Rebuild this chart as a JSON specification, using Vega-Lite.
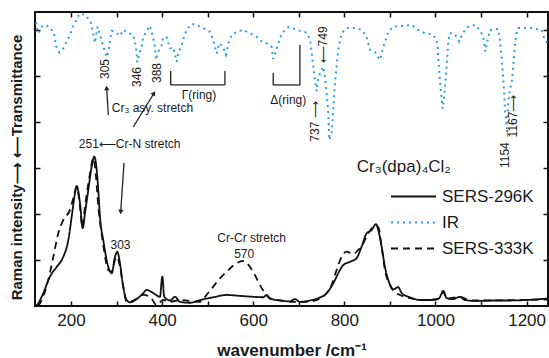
{
  "$schema": "https://vega.github.io/schema/vega-lite/v6.json",
  "width": 513,
  "height": 294,
  "autosize": {"type": "none"},
  "padding": {"left": 35, "top": 12, "right": 1, "bottom": 52},
  "background": "white",
  "config": {
    "view": {"stroke": "#111", "strokeWidth": 2},
    "font": "Liberation Sans",
    "axis": {"grid": false, "domain": false, "tickColor": "#111", "tickWidth": 1.5, "labelFont": "Liberation Sans", "titleFont": "Liberation Sans"}
  },
  "datasets": {
    "spec": [
      {"s":"SERS-296K","wn":123.2,"v":0.0},{"s":"SERS-296K","wn":128.2,"v":0.06},{"s":"SERS-296K","wn":139.2,"v":0.28},{"s":"SERS-296K","wn":153.9,"v":0.64},{"s":"SERS-296K","wn":168.6,"v":0.85},{"s":"SERS-296K","wn":183.1,"v":1.07},{"s":"SERS-296K","wn":194.1,"v":1.43},{"s":"SERS-296K","wn":201.5,"v":1.94},{"s":"SERS-296K","wn":208.8,"v":2.45},{"s":"SERS-296K","wn":212.5,"v":2.61},{"s":"SERS-296K","wn":219.8,"v":2.23},{"s":"SERS-296K","wn":225.7,"v":1.69},{"s":"SERS-296K","wn":230.7,"v":2.02},{"s":"SERS-296K","wn":238.0,"v":2.52},{"s":"SERS-296K","wn":245.4,"v":3.03},{"s":"SERS-296K","wn":251.1,"v":3.25},{"s":"SERS-296K","wn":256.4,"v":2.96},{"s":"SERS-296K","wn":259.9,"v":2.52},{"s":"SERS-296K","wn":263.6,"v":1.94},{"s":"SERS-296K","wn":270.9,"v":1.43},{"s":"SERS-296K","wn":281.9,"v":0.85},{"s":"SERS-296K","wn":289.3,"v":0.71},{"s":"SERS-296K","wn":296.6,"v":1.07},{"s":"SERS-296K","wn":301.6,"v":1.18},{"s":"SERS-296K","wn":307.5,"v":0.93},{"s":"SERS-296K","wn":313.5,"v":0.49},{"s":"SERS-296K","wn":322.2,"v":0.13},{"s":"SERS-296K","wn":329.5,"v":0.08},{"s":"SERS-296K","wn":344.2,"v":0.15},{"s":"SERS-296K","wn":358.7,"v":0.28},{"s":"SERS-296K","wn":366.1,"v":0.35},{"s":"SERS-296K","wn":380.6,"v":0.28},{"s":"SERS-296K","wn":395.3,"v":0.2},{"s":"SERS-296K","wn":400.4,"v":0.64},{"s":"SERS-296K","wn":404.7,"v":0.2},{"s":"SERS-296K","wn":417.3,"v":0.12},{"s":"SERS-296K","wn":428.2,"v":0.2},{"s":"SERS-296K","wn":439.2,"v":0.09},{"s":"SERS-296K","wn":461.1,"v":0.07},{"s":"SERS-296K","wn":483.1,"v":0.13},{"s":"SERS-296K","wn":512.3,"v":0.19},{"s":"SERS-296K","wn":541.7,"v":0.24},{"s":"SERS-296K","wn":570.9,"v":0.22},{"s":"SERS-296K","wn":600.0,"v":0.2},{"s":"SERS-296K","wn":622.0,"v":0.19},{"s":"SERS-296K","wn":629.4,"v":0.24},{"s":"SERS-296K","wn":636.7,"v":0.16},{"s":"SERS-296K","wn":658.6,"v":0.12},{"s":"SERS-296K","wn":680.6,"v":0.1},{"s":"SERS-296K","wn":691.5,"v":0.15},{"s":"SERS-296K","wn":702.5,"v":0.09},{"s":"SERS-296K","wn":724.5,"v":0.12},{"s":"SERS-296K","wn":742.7,"v":0.17},{"s":"SERS-296K","wn":761.1,"v":0.28},{"s":"SERS-296K","wn":775.6,"v":0.49},{"s":"SERS-296K","wn":786.6,"v":0.71},{"s":"SERS-296K","wn":797.5,"v":0.89},{"s":"SERS-296K","wn":812.2,"v":0.96},{"s":"SERS-296K","wn":826.9,"v":1.04},{"s":"SERS-296K","wn":837.9,"v":1.29},{"s":"SERS-296K","wn":848.9,"v":1.58},{"s":"SERS-296K","wn":859.9,"v":1.65},{"s":"SERS-296K","wn":869.3,"v":1.78},{"s":"SERS-296K","wn":874.4,"v":1.65},{"s":"SERS-296K","wn":881.8,"v":1.29},{"s":"SERS-296K","wn":889.1,"v":0.85},{"s":"SERS-296K","wn":896.3,"v":0.57},{"s":"SERS-296K","wn":907.3,"v":0.36},{"s":"SERS-296K","wn":918.3,"v":0.41},{"s":"SERS-296K","wn":925.7,"v":0.28},{"s":"SERS-296K","wn":943.9,"v":0.19},{"s":"SERS-296K","wn":965.9,"v":0.13},{"s":"SERS-296K","wn":995.0,"v":0.13},{"s":"SERS-296K","wn":1008.2,"v":0.17},{"s":"SERS-296K","wn":1017.0,"v":0.33},{"s":"SERS-296K","wn":1024.5,"v":0.17},{"s":"SERS-296K","wn":1038.9,"v":0.15},{"s":"SERS-296K","wn":1053.6,"v":0.2},{"s":"SERS-296K","wn":1064.6,"v":0.13},{"s":"SERS-296K","wn":1090.3,"v":0.11},{"s":"SERS-296K","wn":1126.7,"v":0.12},{"s":"SERS-296K","wn":1163.3,"v":0.12},{"s":"SERS-296K","wn":1199.9,"v":0.13},{"s":"SERS-296K","wn":1229.1,"v":0.15},{"s":"SERS-296K","wn":1246.7,"v":0.16},
      {"s":"SERS-333K","wn":127.6,"v":0.0},{"s":"SERS-333K","wn":132.0,"v":0.06},{"s":"SERS-333K","wn":150.2,"v":0.57},{"s":"SERS-333K","wn":161.2,"v":1.07},{"s":"SERS-333K","wn":172.1,"v":1.58},{"s":"SERS-333K","wn":183.1,"v":1.87},{"s":"SERS-333K","wn":197.8,"v":2.09},{"s":"SERS-333K","wn":205.0,"v":2.34},{"s":"SERS-333K","wn":212.5,"v":2.59},{"s":"SERS-333K","wn":219.8,"v":2.16},{"s":"SERS-333K","wn":224.8,"v":1.72},{"s":"SERS-333K","wn":230.7,"v":2.16},{"s":"SERS-333K","wn":241.7,"v":2.88},{"s":"SERS-333K","wn":248.9,"v":3.21},{"s":"SERS-333K","wn":254.9,"v":2.81},{"s":"SERS-333K","wn":259.9,"v":2.16},{"s":"SERS-333K","wn":265.2,"v":1.72},{"s":"SERS-333K","wn":272.4,"v":1.22},{"s":"SERS-333K","wn":281.9,"v":0.78},{"s":"SERS-333K","wn":289.3,"v":0.75},{"s":"SERS-333K","wn":296.6,"v":1.0},{"s":"SERS-333K","wn":301.6,"v":1.07},{"s":"SERS-333K","wn":307.5,"v":0.85},{"s":"SERS-333K","wn":314.8,"v":0.42},{"s":"SERS-333K","wn":322.2,"v":0.09},{"s":"SERS-333K","wn":336.7,"v":0.12},{"s":"SERS-333K","wn":358.7,"v":0.24},{"s":"SERS-333K","wn":373.4,"v":0.2},{"s":"SERS-333K","wn":388.1,"v":0.02},{"s":"SERS-333K","wn":401.9,"v":0.13},{"s":"SERS-333K","wn":417.3,"v":0.09},{"s":"SERS-333K","wn":439.2,"v":0.13},{"s":"SERS-333K","wn":483.1,"v":0.09},{"s":"SERS-333K","wn":494.1,"v":0.2},{"s":"SERS-333K","wn":508.8,"v":0.38},{"s":"SERS-333K","wn":527.0,"v":0.6},{"s":"SERS-333K","wn":545.2,"v":0.78},{"s":"SERS-333K","wn":563.6,"v":0.93},{"s":"SERS-333K","wn":578.1,"v":0.98},{"s":"SERS-333K","wn":592.8,"v":0.85},{"s":"SERS-333K","wn":603.8,"v":0.67},{"s":"SERS-333K","wn":614.7,"v":0.46},{"s":"SERS-333K","wn":625.7,"v":0.28},{"s":"SERS-333K","wn":636.7,"v":0.17},{"s":"SERS-333K","wn":658.6,"v":0.12},{"s":"SERS-333K","wn":687.8,"v":0.09},{"s":"SERS-333K","wn":717.2,"v":0.09},{"s":"SERS-333K","wn":739.2,"v":0.13},{"s":"SERS-333K","wn":757.4,"v":0.24},{"s":"SERS-333K","wn":772.1,"v":0.46},{"s":"SERS-333K","wn":783.0,"v":0.78},{"s":"SERS-333K","wn":794.0,"v":1.07},{"s":"SERS-333K","wn":805.0,"v":1.18},{"s":"SERS-333K","wn":819.5,"v":1.13},{"s":"SERS-333K","wn":830.5,"v":1.22},{"s":"SERS-333K","wn":841.4,"v":1.36},{"s":"SERS-333K","wn":852.4,"v":1.58},{"s":"SERS-333K","wn":863.4,"v":1.71},{"s":"SERS-333K","wn":874.4,"v":1.72},{"s":"SERS-333K","wn":881.8,"v":1.29},{"s":"SERS-333K","wn":889.1,"v":0.78},{"s":"SERS-333K","wn":900.1,"v":0.46},{"s":"SERS-333K","wn":911.0,"v":0.3},{"s":"SERS-333K","wn":922.0,"v":0.24},{"s":"SERS-333K","wn":943.9,"v":0.17},{"s":"SERS-333K","wn":976.8,"v":0.13},{"s":"SERS-333K","wn":1007.5,"v":0.16},{"s":"SERS-333K","wn":1017.0,"v":0.3},{"s":"SERS-333K","wn":1025.1,"v":0.16},{"s":"SERS-333K","wn":1053.6,"v":0.2},{"s":"SERS-333K","wn":1075.6,"v":0.12},{"s":"SERS-333K","wn":1119.5,"v":0.12},{"s":"SERS-333K","wn":1185.3,"v":0.13},{"s":"SERS-333K","wn":1246.7,"v":0.14},
      {"s":"IR","wn":123.2,"v":6.17},{"s":"IR","wn":128.2,"v":5.93},{"s":"IR","wn":135.7,"v":6.07},{"s":"IR","wn":143.0,"v":6.11},{"s":"IR","wn":153.9,"v":6.06},{"s":"IR","wn":162.7,"v":5.93},{"s":"IR","wn":167.1,"v":5.65},{"s":"IR","wn":174.3,"v":5.51},{"s":"IR","wn":183.1,"v":5.6},{"s":"IR","wn":190.6,"v":5.75},{"s":"IR","wn":197.8,"v":5.89},{"s":"IR","wn":203.7,"v":6.06},{"s":"IR","wn":211.0,"v":6.2},{"s":"IR","wn":218.2,"v":6.35},{"s":"IR","wn":230.7,"v":6.33},{"s":"IR","wn":243.2,"v":6.18},{"s":"IR","wn":247.2,"v":6.0},{"s":"IR","wn":252.7,"v":5.72},{"s":"IR","wn":258.2,"v":6.07},{"s":"IR","wn":263.6,"v":5.89},{"s":"IR","wn":270.2,"v":5.67},{"s":"IR","wn":274.6,"v":5.52},{"s":"IR","wn":279.0,"v":5.41},{"s":"IR","wn":283.4,"v":5.61},{"s":"IR","wn":286.7,"v":5.83},{"s":"IR","wn":289.3,"v":5.98},{"s":"IR","wn":296.6,"v":5.96},{"s":"IR","wn":307.5,"v":5.87},{"s":"IR","wn":314.8,"v":6.0},{"s":"IR","wn":325.7,"v":5.94},{"s":"IR","wn":336.7,"v":5.89},{"s":"IR","wn":339.4,"v":5.78},{"s":"IR","wn":342.6,"v":5.63},{"s":"IR","wn":345.5,"v":5.3},{"s":"IR","wn":350.3,"v":5.5},{"s":"IR","wn":355.2,"v":5.64},{"s":"IR","wn":358.7,"v":5.85},{"s":"IR","wn":366.1,"v":5.98},{"s":"IR","wn":373.4,"v":6.09},{"s":"IR","wn":377.1,"v":5.94},{"s":"IR","wn":380.6,"v":5.82},{"s":"IR","wn":384.3,"v":5.64},{"s":"IR","wn":386.5,"v":5.35},{"s":"IR","wn":391.6,"v":5.53},{"s":"IR","wn":399.0,"v":5.67},{"s":"IR","wn":402.5,"v":5.84},{"s":"IR","wn":410.0,"v":5.84},{"s":"IR","wn":417.3,"v":5.6},{"s":"IR","wn":424.5,"v":5.62},{"s":"IR","wn":432.0,"v":5.31},{"s":"IR","wn":435.5,"v":5.49},{"s":"IR","wn":442.9,"v":5.67},{"s":"IR","wn":448.0,"v":5.85},{"s":"IR","wn":453.9,"v":6.0},{"s":"IR","wn":464.9,"v":6.13},{"s":"IR","wn":475.8,"v":6.11},{"s":"IR","wn":490.3,"v":6.04},{"s":"IR","wn":505.0,"v":5.96},{"s":"IR","wn":512.3,"v":5.78},{"s":"IR","wn":519.7,"v":5.49},{"s":"IR","wn":525.4,"v":5.71},{"s":"IR","wn":532.9,"v":5.64},{"s":"IR","wn":540.1,"v":5.46},{"s":"IR","wn":545.2,"v":5.71},{"s":"IR","wn":552.6,"v":5.89},{"s":"IR","wn":563.6,"v":5.96},{"s":"IR","wn":578.1,"v":6.0},{"s":"IR","wn":592.8,"v":5.93},{"s":"IR","wn":607.5,"v":5.85},{"s":"IR","wn":618.5,"v":5.75},{"s":"IR","wn":629.4,"v":5.71},{"s":"IR","wn":640.4,"v":5.63},{"s":"IR","wn":643.9,"v":5.37},{"s":"IR","wn":649.9,"v":5.53},{"s":"IR","wn":654.9,"v":5.71},{"s":"IR","wn":662.4,"v":5.91},{"s":"IR","wn":669.6,"v":6.0},{"s":"IR","wn":676.9,"v":6.06},{"s":"IR","wn":691.5,"v":6.02},{"s":"IR","wn":702.5,"v":5.98},{"s":"IR","wn":713.5,"v":5.96},{"s":"IR","wn":720.7,"v":5.89},{"s":"IR","wn":725.6,"v":5.74},{"s":"IR","wn":728.9,"v":5.46},{"s":"IR","wn":732.2,"v":5.17},{"s":"IR","wn":735.4,"v":4.91},{"s":"IR","wn":739.2,"v":4.67},{"s":"IR","wn":742.7,"v":4.96},{"s":"IR","wn":750.1,"v":5.13},{"s":"IR","wn":753.7,"v":5.2},{"s":"IR","wn":757.4,"v":4.98},{"s":"IR","wn":761.1,"v":4.63},{"s":"IR","wn":764.7,"v":4.2},{"s":"IR","wn":766.9,"v":3.61},{"s":"IR","wn":772.1,"v":3.76},{"s":"IR","wn":775.6,"v":4.26},{"s":"IR","wn":779.3,"v":4.85},{"s":"IR","wn":783.0,"v":5.2},{"s":"IR","wn":786.6,"v":5.57},{"s":"IR","wn":794.0,"v":5.93},{"s":"IR","wn":805.0,"v":6.04},{"s":"IR","wn":826.9,"v":6.04},{"s":"IR","wn":837.9,"v":6.0},{"s":"IR","wn":848.9,"v":5.85},{"s":"IR","wn":856.1,"v":5.57},{"s":"IR","wn":867.1,"v":5.52},{"s":"IR","wn":878.1,"v":5.35},{"s":"IR","wn":886.9,"v":5.67},{"s":"IR","wn":896.3,"v":5.96},{"s":"IR","wn":907.3,"v":6.07},{"s":"IR","wn":929.2,"v":6.09},{"s":"IR","wn":947.6,"v":6.11},{"s":"IR","wn":962.1,"v":6.0},{"s":"IR","wn":976.8,"v":5.93},{"s":"IR","wn":991.5,"v":5.91},{"s":"IR","wn":1000.9,"v":5.82},{"s":"IR","wn":1004.7,"v":5.67},{"s":"IR","wn":1006.4,"v":5.35},{"s":"IR","wn":1009.7,"v":4.91},{"s":"IR","wn":1013.5,"v":4.52},{"s":"IR","wn":1015.6,"v":4.29},{"s":"IR","wn":1018.5,"v":4.48},{"s":"IR","wn":1020.7,"v":4.74},{"s":"IR","wn":1024.5,"v":5.2},{"s":"IR","wn":1028.0,"v":5.71},{"s":"IR","wn":1030.6,"v":5.93},{"s":"IR","wn":1042.7,"v":5.91},{"s":"IR","wn":1052.1,"v":5.75},{"s":"IR","wn":1059.6,"v":5.93},{"s":"IR","wn":1071.9,"v":6.07},{"s":"IR","wn":1086.5,"v":6.11},{"s":"IR","wn":1097.5,"v":6.0},{"s":"IR","wn":1104.8,"v":5.85},{"s":"IR","wn":1109.6,"v":5.53},{"s":"IR","wn":1112.9,"v":5.71},{"s":"IR","wn":1119.5,"v":6.0},{"s":"IR","wn":1137.7,"v":6.02},{"s":"IR","wn":1141.4,"v":5.78},{"s":"IR","wn":1145.1,"v":5.41},{"s":"IR","wn":1148.7,"v":4.98},{"s":"IR","wn":1150.8,"v":4.62},{"s":"IR","wn":1152.4,"v":4.33},{"s":"IR","wn":1154.6,"v":4.04},{"s":"IR","wn":1156.8,"v":3.85},{"s":"IR","wn":1159.6,"v":4.39},{"s":"IR","wn":1163.3,"v":4.7},{"s":"IR","wn":1167.1,"v":4.83},{"s":"IR","wn":1170.6,"v":5.2},{"s":"IR","wn":1174.3,"v":5.67},{"s":"IR","wn":1178.0,"v":5.93},{"s":"IR","wn":1181.6,"v":6.04},{"s":"IR","wn":1210.9,"v":6.04},{"s":"IR","wn":1232.9,"v":6.0},{"s":"IR","wn":1240.1,"v":5.78},{"s":"IR","wn":1245.6,"v":5.72}
    ],
    "rules": [
      {"wn":281.9,"v":4.152,"wn2":278.3,"v2":4.739},
      {"wn":336.7,"v":3.891,"wn2":382.1,"v2":4.624},
      {"wn":316.3,"v":3.109,"wn2":309.1,"v2":2.043},
      {"wn":418.8,"v":4.804,"wn2":537.9,"v2":4.804},
      {"wn":418.8,"v":5.109,"wn2":418.8,"v2":4.804},
      {"wn":537.9,"v":5.109,"wn2":537.9,"v2":4.804},
      {"wn":643.9,"v":5.065,"wn2":643.9,"v2":4.804},
      {"wn":643.9,"v":4.804,"wn2":702.5,"v2":4.804},
      {"wn":702.5,"v":5.674,"wn2":702.5,"v2":4.804}
    ],
    "txt": [
      {"wn":480.9,"v":4.587,"t":"Γ(ring)"},
      {"wn":676.9,"v":4.467,"t":"Δ(ring)"},
      {"wn":378.8,"v":4.304,"t":"Cr₃ asy. stretch"},
      {"wn":328.8,"v":3.522,"t":"251⟵Cr-N stretch"},
      {"wn":308.6,"v":1.333,"t":"303"},
      {"wn":596.5,"v":1.485,"t":"Cr-Cr stretch"},
      {"wn":580.1,"v":1.137,"t":"570"}
    ],
    "rot": [
      {"wn":274.6,"v":5.152,"t":"305"},
      {"wn":344.8,"v":4.978,"t":"346"},
      {"wn":388.7,"v":5.065,"t":"388"},
      {"wn":752.3,"v":5.674,"t":"⟵749"},
      {"wn":735.4,"v":4.011,"t":"737 ⟶"},
      {"wn":1152.4,"v":3.446,"t":"1154 →"},
      {"wn":1170.0,"v":4.13,"t":"1167⟶"}
    ]
  },
  "layer": [
    {
      "data": {"name": "spec"},
      "transform": [{"filter": "datum.s !== 'IR'"}],
      "mark": {"type": "line", "strokeWidth": 1.8, "interpolate": "monotone"},
      "encoding": {
        "x": {"field": "wn", "type": "quantitative", "scale": {"domain": [121, 1247], "nice": false, "zero": false},
          "axis": {"orient": "bottom", "values": [200,300,400,500,600,700,800,900,1000,1100,1200], "labelExpr": "datum.value % 200 === 0 ? datum.label : ''", "format": "d", "tickSize": -5, "labelPadding": 11, "labelFontSize": 17, "labelColor": "#1a1a1a", "labelFlush": false, "labelOverlap": false, "title": "wavenumber /cm⁻¹", "titleFontSize": 17, "titleFontWeight": "bold", "titleColor": "#1a1a1a", "titleY": 49, "titleBaseline": "alphabetic"}},
        "y": {"field": "v", "type": "quantitative", "scale": {"domain": [0, 6.39], "nice": false, "zero": false},
          "axis": {"orient": "left", "values": [1,2,3,4,5,6], "labels": false, "tickSize": -5, "title": "Raman intensity⟶     ⟵Transmittance", "titleFontSize": 15, "titleFontWeight": "bold", "titleColor": "#1a1a1a", "titleAngle": 270, "titleX": -14, "titleY": 155, "titleBaseline": "alphabetic"}},
        "color": {"field": "s", "type": "nominal", "scale": {"domain": ["SERS-296K","IR","SERS-333K"], "range": ["#111111","#2a9fe0","#111111"]},
          "legend": {"orient": "none", "legendX": 370, "legendY": 176, "title": null, "symbolType": "M-3,0H3", "symbolSize": 225, "symbolStrokeWidth": 2, "labelFontSize": 17, "labelColor": "#1a1a1a", "labelOffset": 20, "rowPadding": 8, "labelFont": "Liberation Sans"}},
        "strokeDash": {"field": "s", "type": "nominal", "scale": {"domain": ["SERS-296K","IR","SERS-333K"], "range": [[1,0],[2,4],[7,5]]},
          "legend": {"orient": "none", "legendX": 370, "legendY": 176, "title": null, "symbolType": "M-3,0H3", "symbolSize": 225, "symbolStrokeWidth": 2, "labelFontSize": 17, "labelColor": "#1a1a1a", "labelOffset": 20, "rowPadding": 8, "labelFont": "Liberation Sans"}}
      }
    },
    {
      "data": {"name": "spec"},
      "transform": [{"filter": "datum.s === 'IR'"}],
      "mark": {"type": "line", "strokeWidth": 2},
      "encoding": {
        "x": {"field": "wn", "type": "quantitative", "scale": {"domain": [121, 1247], "nice": false, "zero": false},
          "axis": {"orient": "top", "values": [200,300,400,500,600,700,800,900,1000,1100,1200], "labels": false, "tickSize": -5, "title": null}},
        "y": {"field": "v", "type": "quantitative", "scale": {"domain": [0, 6.39], "nice": false, "zero": false},
          "axis": {"orient": "right", "values": [1,2,3,4,5,6], "labels": false, "tickSize": -5, "title": null}},
        "color": {"field": "s", "type": "nominal", "scale": {"domain": ["SERS-296K","IR","SERS-333K"], "range": ["#111111","#2a9fe0","#111111"]},
          "legend": {"orient": "none", "legendX": 370, "legendY": 176, "title": null, "symbolType": "M-3,0H3", "symbolSize": 225, "symbolStrokeWidth": 2, "labelFontSize": 17, "labelColor": "#1a1a1a", "labelOffset": 20, "rowPadding": 8, "labelFont": "Liberation Sans"}},
        "strokeDash": {"field": "s", "type": "nominal", "scale": {"domain": ["SERS-296K","IR","SERS-333K"], "range": [[1,0],[2,4],[7,5]]},
          "legend": {"orient": "none", "legendX": 370, "legendY": 176, "title": null, "symbolType": "M-3,0H3", "symbolSize": 225, "symbolStrokeWidth": 2, "labelFontSize": 17, "labelColor": "#1a1a1a", "labelOffset": 20, "rowPadding": 8, "labelFont": "Liberation Sans"}}
      }
    },
    {
      "data": {"name": "rules"},
      "mark": {"type": "rule", "color": "#222", "strokeWidth": 1.3},
      "encoding": {
        "x": {"field": "wn", "type": "quantitative", "scale": {"domain": [121, 1247], "nice": false, "zero": false}, "axis": null},
        "y": {"field": "v", "type": "quantitative", "scale": {"domain": [0, 6.39], "nice": false, "zero": false}, "axis": null},
        "x2": {"field": "wn2"},
        "y2": {"field": "v2"}
      }
    },
    {
      "data": {"values": [{"wn": 278.3, "v": 4.739}]},
      "mark": {"type": "point", "shape": "triangle-up", "filled": true, "color": "#222", "size": 28, "opacity": 1, "angle": 357},
      "encoding": {
        "x": {"field": "wn", "type": "quantitative", "scale": {"domain": [121, 1247], "nice": false, "zero": false}, "axis": null},
        "y": {"field": "v", "type": "quantitative", "scale": {"domain": [0, 6.39], "nice": false, "zero": false}, "axis": null}
      }
    },
    {
      "data": {"values": [{"wn": 382.1, "v": 4.624}]},
      "mark": {"type": "point", "shape": "triangle-up", "filled": true, "color": "#222", "size": 28, "opacity": 1, "angle": 32},
      "encoding": {
        "x": {"field": "wn", "type": "quantitative", "scale": {"domain": [121, 1247], "nice": false, "zero": false}, "axis": null},
        "y": {"field": "v", "type": "quantitative", "scale": {"domain": [0, 6.39], "nice": false, "zero": false}, "axis": null}
      }
    },
    {
      "data": {"values": [{"wn": 309.1, "v": 2.043}]},
      "mark": {"type": "point", "shape": "triangle-up", "filled": true, "color": "#222", "size": 28, "opacity": 1, "angle": 184},
      "encoding": {
        "x": {"field": "wn", "type": "quantitative", "scale": {"domain": [121, 1247], "nice": false, "zero": false}, "axis": null},
        "y": {"field": "v", "type": "quantitative", "scale": {"domain": [0, 6.39], "nice": false, "zero": false}, "axis": null}
      }
    },
    {
      "data": {"name": "txt"},
      "mark": {"type": "text", "font": "Liberation Sans", "fontSize": 12, "color": "#1a1a1a", "align": "center", "baseline": "middle"},
      "encoding": {
        "x": {"field": "wn", "type": "quantitative", "scale": {"domain": [121, 1247], "nice": false, "zero": false}, "axis": null},
        "y": {"field": "v", "type": "quantitative", "scale": {"domain": [0, 6.39], "nice": false, "zero": false}, "axis": null},
        "text": {"field": "t"}
      }
    },
    {
      "data": {"name": "rot"},
      "mark": {"type": "text", "font": "Liberation Sans", "fontSize": 12, "color": "#1a1a1a", "align": "center", "baseline": "middle", "angle": 270},
      "encoding": {
        "x": {"field": "wn", "type": "quantitative", "scale": {"domain": [121, 1247], "nice": false, "zero": false}, "axis": null},
        "y": {"field": "v", "type": "quantitative", "scale": {"domain": [0, 6.39], "nice": false, "zero": false}, "axis": null},
        "text": {"field": "t"}
      }
    },
    {
      "data": {"values": [{"wn": 930.7, "v": 3.022, "t": "Cr₃(dpa)₄Cl₂"}]},
      "mark": {"type": "text", "font": "Liberation Sans", "fontSize": 17, "color": "#1a1a1a", "align": "center", "baseline": "middle"},
      "encoding": {
        "x": {"field": "wn", "type": "quantitative", "scale": {"domain": [121, 1247], "nice": false, "zero": false}, "axis": null},
        "y": {"field": "v", "type": "quantitative", "scale": {"domain": [0, 6.39], "nice": false, "zero": false}, "axis": null},
        "text": {"field": "t"}
      }
    }
  ],
  "resolve": {"axis": {"x": "independent", "y": "independent"}}
}
